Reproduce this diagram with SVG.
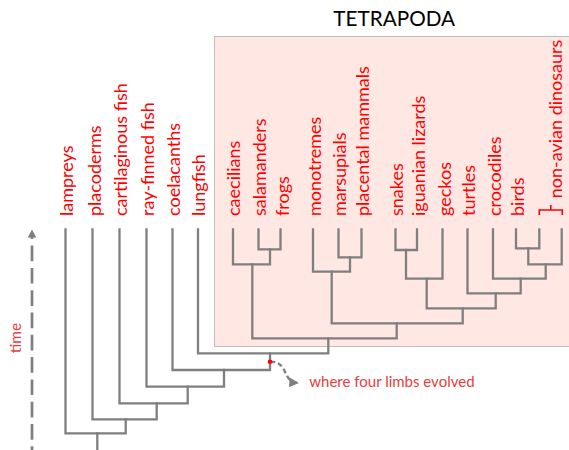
<svg xmlns="http://www.w3.org/2000/svg" width="569" height="450" viewBox="0 0 569 450">
  <style>
    .taxon { font-family: Lato, "Noto Sans", "DejaVu Sans", sans-serif; font-size: 18px; fill: #ff0000; }
    .note { font-family: Lato, "Noto Sans", "DejaVu Sans", sans-serif; fill: #e63c3c; }
    .title { font-family: Lato, "Noto Sans", "DejaVu Sans", sans-serif; font-size: 20.7px; fill: #000; }
    .branch { fill: none; stroke: #7f7f7f; stroke-width: 2.3; stroke-linecap: square; stroke-linejoin: miter; }
  </style>
  <defs>
    <marker id="arrowhead" viewBox="0 0 10 10" refX="8" refY="5" markerWidth="4" markerHeight="4" orient="auto" markerUnits="strokeWidth">
      <path d="M0,0 L10,5 L0,10 z" fill="#7f7f7f"/>
    </marker>
  </defs>

  <!-- Tetrapod clade background -->
  <g id="tetrapoda">
    <rect x="214.5" y="36.5" width="360" height="310" fill="#ffe8e4" stroke="#bfbfbf" stroke-width="1"/>
    <text class="title" x="394.2" y="26" text-anchor="middle">TETRAPODA</text>
  </g>

  <!-- Time axis -->
  <g id="time-axis">
    <line x1="32" y1="460" x2="32" y2="233" stroke="#7f7f7f" stroke-width="2.7" stroke-dasharray="15.7 6.6" stroke-dashoffset="2"/>
    <path d="M32,229.5 L36.3,237.5 L27.7,237.5 z" fill="#7f7f7f"/>
    <text class="note" font-size="15.5" transform="translate(20.7,353.3) rotate(-90)">time</text>
  </g>

  <!-- Branches of the tree -->
  <g id="connectors" class="branch">
    <path d="M97.3,433.3 V452"/>
    <path d="M65.5,229.5 V433.3 H125.7 V419.3"/>
    <path d="M92.5,229.5 V419.3 H156.7 V403.3"/>
    <path d="M119.5,229.5 V403.3 H187.7 V386.7"/>
    <path d="M146.5,229.5 V386.7 H224 V370"/>
    <path d="M172.5,229.5 V370 H270 V353.3"/>
    <path d="M198,229.5 V353.3 H328.3 V338.3"/>
    <!-- amphibians -->
    <path d="M233,229.5 V264.3 H270 V249.3"/>
    <path d="M258.5,229.5 V249.3 H280.5 V229.5"/>
    <path d="M252.3,264.3 V338.3 H396.7 V323.3"/>
    <!-- mammals -->
    <path d="M313,229.5 V271.7 H350 V257.3"/>
    <path d="M338.5,229.5 V257.3 H361.5 V229.5"/>
    <path d="M331.7,271.7 V323.3 H462.7 V308.3"/>
    <!-- reptiles -->
    <path d="M395.5,229.5 V250 H417 V229.5"/>
    <path d="M406,250 V278.7 H442.5 V229.5"/>
    <path d="M426.7,278.7 V308.3 H495.7 V293.3"/>
    <path d="M467.5,229.5 V293.3 H520.7 V278.7"/>
    <path d="M493,229.5 V278.7 H545.7 V264.3"/>
    <path d="M516,229.5 V248.3 H539.3 V229.5"/>
    <path d="M528.3,248.3 V264.3 H561.7 V229.5"/>
  </g>

  <!-- Taxa -->
  <g id="lampreys"><text class="taxon" transform="translate(73.3,216) rotate(-90)">lampreys</text></g>
  <g id="placoderms"><text class="taxon" transform="translate(100.5,216) rotate(-90)">placoderms</text></g>
  <g id="cartilaginous-fish"><text class="taxon" transform="translate(127.3,216) rotate(-90)">cartilaginous fish</text></g>
  <g id="ray-finned-fish"><text class="taxon" transform="translate(154,216) rotate(-90)">ray-finned fish</text></g>
  <g id="coelacanths"><text class="taxon" transform="translate(180,216) rotate(-90)">coelacanths</text></g>
  <g id="lungfish"><text class="taxon" transform="translate(205.3,216) rotate(-90)">lungfish</text></g>
  <g id="caecilians"><text class="taxon" transform="translate(240,216) rotate(-90)">caecilians</text></g>
  <g id="salamanders"><text class="taxon" transform="translate(265.5,216) rotate(-90)">salamanders</text></g>
  <g id="frogs"><text class="taxon" transform="translate(289,216) rotate(-90)">frogs</text></g>
  <g id="monotremes"><text class="taxon" transform="translate(320.5,216) rotate(-90)">monotremes</text></g>
  <g id="marsupials"><text class="taxon" transform="translate(345.7,216) rotate(-90)">marsupials</text></g>
  <g id="placental-mammals"><text class="taxon" transform="translate(368.7,216) rotate(-90)">placental mammals</text></g>
  <g id="snakes"><text class="taxon" transform="translate(403,216) rotate(-90)">snakes</text></g>
  <g id="iguanian-lizards"><text class="taxon" transform="translate(425,216) rotate(-90)">iguanian lizards</text></g>
  <g id="geckos"><text class="taxon" transform="translate(450.7,216) rotate(-90)">geckos</text></g>
  <g id="turtles"><text class="taxon" transform="translate(475.2,216) rotate(-90)">turtles</text></g>
  <g id="crocodiles"><text class="taxon" transform="translate(501,216) rotate(-90)">crocodiles</text></g>
  <g id="birds"><text class="taxon" transform="translate(523.5,216) rotate(-90)">birds</text></g>
  <g id="non-avian-dinosaurs">
    <path d="M539.3,215 V210 H562.3 V215 M550.8,210 V205" fill="none" stroke="#ff0000" stroke-width="1.6"/>
    <text class="taxon" transform="translate(562,198.3) rotate(-90)">non-avian dinosaurs</text>
  </g>

  <!-- Origin of four limbs -->
  <g id="four-limbs">
    <path d="M270,361.7 C280,361.5 283,367 285.5,373 C288,379 292,382.5 297,382.8" fill="none" stroke="#7f7f7f" stroke-width="2.4" stroke-dasharray="5 3" marker-end="url(#arrowhead)"/>
    <circle cx="270" cy="361.7" r="2.3" fill="#ff0000"/>
    <text class="note" font-size="15" x="309.3" y="386.7">where four limbs evolved</text>
  </g>
</svg>
